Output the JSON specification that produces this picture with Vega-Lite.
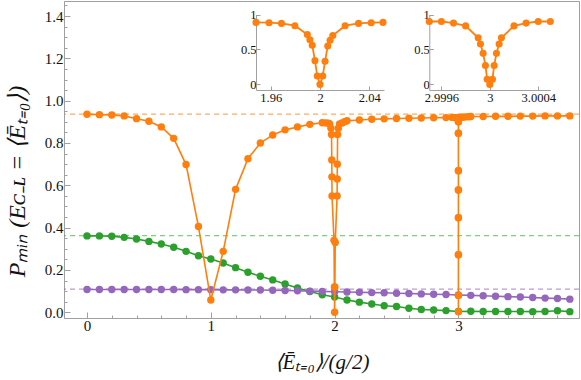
{
  "$schema": "https://vega.github.io/schema/vega-lite/v6.json",
  "width": 515,
  "height": 317,
  "autosize": {"type": "none"},
  "padding": {"left": 64, "top": 1, "right": 2, "bottom": 62},
  "background": "white",
  "config": {
    "view": {"stroke": "#a0a0a0", "strokeWidth": 1},
    "axis": {
      "labelFont": "Liberation Serif",
      "titleFont": "Liberation Serif",
      "labelColor": "#111",
      "titleColor": "#111",
      "domainColor": "#a0a0a0",
      "tickColor": "#a0a0a0",
      "grid": false,
      "labelFontSize": 15,
      "titleFontWeight": "normal"
    }
  },
  "datasets": {
    "orange": [
      {"x": 0.0, "y": 0.936}, {"x": 0.1, "y": 0.934}, {"x": 0.2, "y": 0.932}, {"x": 0.3, "y": 0.928},
      {"x": 0.4, "y": 0.915}, {"x": 0.5, "y": 0.903}, {"x": 0.6, "y": 0.876}, {"x": 0.7, "y": 0.822},
      {"x": 0.8, "y": 0.698}, {"x": 0.9, "y": 0.405}, {"x": 1.0, "y": 0.058}, {"x": 1.1, "y": 0.288},
      {"x": 1.2, "y": 0.581}, {"x": 1.3, "y": 0.726}, {"x": 1.4, "y": 0.8}, {"x": 1.5, "y": 0.838},
      {"x": 1.6, "y": 0.862}, {"x": 1.7, "y": 0.876}, {"x": 1.8, "y": 0.888}, {"x": 1.9, "y": 0.896},
      {"x": 1.93, "y": 0.895}, {"x": 1.95, "y": 0.893}, {"x": 1.96, "y": 0.89}, {"x": 1.97, "y": 0.87},
      {"x": 1.975, "y": 0.84}, {"x": 1.977, "y": 0.72}, {"x": 1.978, "y": 0.64}, {"x": 1.979, "y": 0.55},
      {"x": 1.995, "y": 0.34}, {"x": 1.998, "y": 0.12}, {"x": 2.0, "y": 0.0}, {"x": 2.002, "y": 0.12},
      {"x": 2.005, "y": 0.33}, {"x": 2.02, "y": 0.55}, {"x": 2.021, "y": 0.63}, {"x": 2.022, "y": 0.7},
      {"x": 2.024, "y": 0.84}, {"x": 2.03, "y": 0.87}, {"x": 2.04, "y": 0.89}, {"x": 2.06, "y": 0.895},
      {"x": 2.08, "y": 0.9}, {"x": 2.1, "y": 0.905}, {"x": 2.2, "y": 0.909}, {"x": 2.3, "y": 0.912},
      {"x": 2.4, "y": 0.914}, {"x": 2.5, "y": 0.916}, {"x": 2.6, "y": 0.917}, {"x": 2.7, "y": 0.918},
      {"x": 2.8, "y": 0.919}, {"x": 2.9, "y": 0.92}, {"x": 2.95, "y": 0.921}, {"x": 2.97, "y": 0.92},
      {"x": 2.98, "y": 0.92}, {"x": 2.99, "y": 0.92}, {"x": 2.995, "y": 0.92}, {"x": 2.998, "y": 0.918},
      {"x": 2.9995, "y": 0.9}, {"x": 2.9998, "y": 0.846}, {"x": 2.999904, "y": 0.669}, {"x": 2.999923, "y": 0.578},
      {"x": 2.999945, "y": 0.447}, {"x": 2.999964, "y": 0.272}, {"x": 2.999978, "y": 0.08}, {"x": 3.0, "y": 0.003},
      {"x": 3.000022, "y": 0.08}, {"x": 3.000036, "y": 0.272}, {"x": 3.000055, "y": 0.447}, {"x": 3.000077, "y": 0.578},
      {"x": 3.000096, "y": 0.669}, {"x": 3.0002, "y": 0.846}, {"x": 3.0005, "y": 0.9}, {"x": 3.002, "y": 0.918},
      {"x": 3.005, "y": 0.92}, {"x": 3.01, "y": 0.921}, {"x": 3.02, "y": 0.921}, {"x": 3.03, "y": 0.922},
      {"x": 3.05, "y": 0.923}, {"x": 3.08, "y": 0.924}, {"x": 3.1, "y": 0.925}, {"x": 3.2, "y": 0.925},
      {"x": 3.3, "y": 0.926}, {"x": 3.4, "y": 0.926}, {"x": 3.5, "y": 0.927}, {"x": 3.6, "y": 0.927},
      {"x": 3.7, "y": 0.928}, {"x": 3.8, "y": 0.928}, {"x": 3.9, "y": 0.928}
    ],
    "green": [
      {"x": 0.0, "y": 0.361}, {"x": 0.1, "y": 0.361}, {"x": 0.2, "y": 0.359}, {"x": 0.3, "y": 0.354},
      {"x": 0.4, "y": 0.346}, {"x": 0.5, "y": 0.335}, {"x": 0.6, "y": 0.323}, {"x": 0.7, "y": 0.307},
      {"x": 0.8, "y": 0.288}, {"x": 0.9, "y": 0.267}, {"x": 1.0, "y": 0.252}, {"x": 1.1, "y": 0.233},
      {"x": 1.2, "y": 0.211}, {"x": 1.3, "y": 0.189}, {"x": 1.4, "y": 0.17}, {"x": 1.5, "y": 0.153},
      {"x": 1.6, "y": 0.134}, {"x": 1.7, "y": 0.115}, {"x": 1.8, "y": 0.098}, {"x": 1.9, "y": 0.083},
      {"x": 2.0, "y": 0.072}, {"x": 2.1, "y": 0.058}, {"x": 2.2, "y": 0.048}, {"x": 2.3, "y": 0.039},
      {"x": 2.4, "y": 0.031}, {"x": 2.5, "y": 0.027}, {"x": 2.6, "y": 0.019}, {"x": 2.7, "y": 0.013},
      {"x": 2.8, "y": 0.011}, {"x": 2.9, "y": 0.008}, {"x": 3.0, "y": 0.004}, {"x": 3.1, "y": 0.005},
      {"x": 3.2, "y": 0.004}, {"x": 3.3, "y": 0.004}, {"x": 3.4, "y": 0.004}, {"x": 3.5, "y": 0.004},
      {"x": 3.6, "y": 0.003}, {"x": 3.7, "y": 0.004}, {"x": 3.8, "y": 0.007}, {"x": 3.9, "y": 0.003}
    ],
    "purple": [
      {"x": 0.0, "y": 0.108}, {"x": 0.1, "y": 0.108}, {"x": 0.2, "y": 0.108}, {"x": 0.3, "y": 0.108},
      {"x": 0.4, "y": 0.108}, {"x": 0.5, "y": 0.108}, {"x": 0.6, "y": 0.108}, {"x": 0.7, "y": 0.108},
      {"x": 0.8, "y": 0.107}, {"x": 0.9, "y": 0.107}, {"x": 1.0, "y": 0.107}, {"x": 1.1, "y": 0.106},
      {"x": 1.2, "y": 0.106}, {"x": 1.3, "y": 0.105}, {"x": 1.4, "y": 0.105}, {"x": 1.5, "y": 0.104},
      {"x": 1.6, "y": 0.103}, {"x": 1.7, "y": 0.102}, {"x": 1.8, "y": 0.1}, {"x": 1.9, "y": 0.099},
      {"x": 2.0, "y": 0.097}, {"x": 2.1, "y": 0.096}, {"x": 2.2, "y": 0.095}, {"x": 2.3, "y": 0.093},
      {"x": 2.4, "y": 0.092}, {"x": 2.5, "y": 0.09}, {"x": 2.6, "y": 0.089}, {"x": 2.7, "y": 0.087},
      {"x": 2.8, "y": 0.085}, {"x": 2.9, "y": 0.084}, {"x": 3.0, "y": 0.082}, {"x": 3.1, "y": 0.08},
      {"x": 3.2, "y": 0.078}, {"x": 3.3, "y": 0.076}, {"x": 3.4, "y": 0.074}, {"x": 3.5, "y": 0.072},
      {"x": 3.6, "y": 0.07}, {"x": 3.7, "y": 0.067}, {"x": 3.8, "y": 0.065}, {"x": 3.9, "y": 0.062}
    ],
    "limits": [
      {"s": "orange", "y": 0.936}, {"s": "green", "y": 0.362}, {"s": "purple", "y": 0.109}
    ],
    "inset1": [
      {"x": 1.948, "y": 0.887}, {"x": 1.9586, "y": 0.883}, {"x": 1.9687, "y": 0.873}, {"x": 1.9796, "y": 0.84},
      {"x": 1.9897, "y": 0.714}, {"x": 1.9918, "y": 0.64}, {"x": 1.9937, "y": 0.56}, {"x": 1.9959, "y": 0.34},
      {"x": 1.9978, "y": 0.12}, {"x": 2.0, "y": 0.0}, {"x": 2.0022, "y": 0.12}, {"x": 2.0041, "y": 0.33},
      {"x": 2.0063, "y": 0.55}, {"x": 2.0082, "y": 0.63}, {"x": 2.0104, "y": 0.7}, {"x": 2.0204, "y": 0.84},
      {"x": 2.0313, "y": 0.873}, {"x": 2.0416, "y": 0.883}, {"x": 2.0512, "y": 0.887}
    ],
    "inset2": [
      {"x": 2.9995, "y": 0.9}, {"x": 2.9996, "y": 0.9}, {"x": 2.9997, "y": 0.877}, {"x": 2.9998, "y": 0.837},
      {"x": 2.999904, "y": 0.666}, {"x": 2.999923, "y": 0.577}, {"x": 2.999945, "y": 0.444}, {"x": 2.999964, "y": 0.271},
      {"x": 2.999978, "y": 0.074}, {"x": 3.0, "y": 0.0}, {"x": 3.000022, "y": 0.074}, {"x": 3.000036, "y": 0.271},
      {"x": 3.000055, "y": 0.444}, {"x": 3.000077, "y": 0.577}, {"x": 3.000096, "y": 0.666}, {"x": 3.0002, "y": 0.837},
      {"x": 3.0003, "y": 0.877}, {"x": 3.0004, "y": 0.9}, {"x": 3.0005, "y": 0.9}
    ],
    "frame": [{"id": 1}]
  },
  "layer": [
    {
      "encoding": {
        "x": {"field": "x", "type": "quantitative",
          "scale": {"domain": [-0.186, 3.974], "nice": false, "zero": false},
          "axis": {"orient": "bottom", "values": [0.2, 0.4, 0.6, 0.8, 1.2, 1.4, 1.6, 1.8, 2.2, 2.4, 2.6, 2.8, 3.2, 3.4, 3.6, 3.8],
            "labels": false, "domain": false, "tickSize": -3, "title": null}},
        "y": {"field": "y", "type": "quantitative",
          "scale": {"domain": [-0.027, 1.471], "nice": false, "zero": false},
          "axis": {"orient": "left", "values": [0.05, 0.1, 0.15, 0.25, 0.3, 0.35, 0.45, 0.5, 0.55, 0.65, 0.7, 0.75, 0.85, 0.9, 0.95, 1.05, 1.1, 1.15, 1.25, 1.3, 1.35, 1.45],
            "labels": false, "domain": false, "tickSize": -3, "title": null}}
      },
      "layer": [
        {
          "data": {"name": "limits"},
          "mark": {"type": "rule", "strokeDash": [5, 4], "strokeWidth": 1.3, "opacity": 0.65},
          "encoding": {
            "x": null,
            "color": {"field": "s", "type": "nominal", "legend": null,
              "scale": {"domain": ["orange", "green", "purple"], "range": ["#ff7f0e", "#3cb33c", "#9467bd"]}}
          }
        },
        {"data": {"name": "green"}, "mark": {"type": "line", "color": "#2ca02c", "strokeWidth": 1.6}},
        {"data": {"name": "green"}, "mark": {"type": "point", "filled": true, "opacity": 1, "size": 55, "color": "#2ca02c"}},
        {"data": {"name": "purple"}, "mark": {"type": "line", "color": "#9467bd", "strokeWidth": 1.6}},
        {"data": {"name": "purple"}, "mark": {"type": "point", "filled": true, "opacity": 1, "size": 55, "color": "#9467bd"}}
      ]
    },
    {
      "data": {"name": "orange"},
      "encoding": {
        "x": {"field": "x", "type": "quantitative",
          "scale": {"domain": [-0.186, 3.974], "nice": false, "zero": false},
          "axis": {"orient": "bottom", "values": [0, 1, 2, 3], "format": "d", "tickSize": -6, "labelPadding": 6,
            "title": "⟨Ēₜ₌₀⟩/(g/2)", "titleFontSize": 21, "titleFontStyle": "italic", "titleY": 44, "titleBaseline": "middle"}},
        "y": {"field": "y", "type": "quantitative",
          "scale": {"domain": [-0.027, 1.471], "nice": false, "zero": false},
          "axis": {"orient": "left", "values": [0, 0.2, 0.4, 0.6, 0.8, 1.0, 1.2, 1.4], "format": ".1f", "tickSize": -6, "labelPadding": 7,
            "title": "Pₘᵢₙ (Eᴄ₋ʟ = ⟨Ēₜ₌₀⟩)", "titleFontSize": 24, "titleFontStyle": "italic",
            "titleX": -47, "titleY": 180, "titleBaseline": "middle", "titleAlign": "center", "titleAngle": -90}}
      },
      "layer": [
        {"mark": {"type": "line", "color": "#ff7f0e", "strokeWidth": 1.6}},
        {"mark": {"type": "point", "filled": true, "opacity": 1, "size": 55, "color": "#ff7f0e"}}
      ]
    },
    {
      "encoding": {
        "x": {"field": "x", "type": "quantitative",
          "scale": {"domain": [1.948, 2.052], "range": [192, 320], "nice": false, "zero": false},
          "axis": {"orient": "bottom", "offset": -228, "values": [1.96, 2, 2.04], "format": ".2~f", "tickSize": -4,
            "labelPadding": 5, "labelFontSize": 12.5, "title": null}},
        "y": {"field": "y", "type": "quantitative",
          "scale": {"domain": [-0.08, 1.0], "range": [89, 13.5], "nice": false, "zero": false},
          "axis": {"orient": "left", "offset": -192, "values": [0, 0.5, 1], "format": ".1~f", "tickSize": -4,
            "labelPadding": 4, "labelFontSize": 12.5, "title": null}}
      },
      "layer": [
        {
          "data": {"name": "frame"},
          "mark": {"type": "rect", "fill": "white", "stroke": "#a0a0a0", "strokeWidth": 1},
          "encoding": {"x": {"datum": 1.948}, "x2": {"datum": 2.052}, "y": {"datum": -0.08}, "y2": {"datum": 1.0}}
        },
        {
          "data": {"name": "frame"},
          "mark": {"type": "rule", "color": "#ff7f0e", "strokeDash": [5, 4], "strokeWidth": 1.2, "opacity": 0.65},
          "encoding": {"x": {"datum": 1.948}, "x2": {"datum": 2.052}, "y": {"datum": 0.934}}
        },
        {"data": {"name": "inset1"}, "mark": {"type": "line", "color": "#ff7f0e", "strokeWidth": 1.8}},
        {"data": {"name": "inset1"}, "mark": {"type": "point", "filled": true, "opacity": 1, "size": 50, "color": "#ff7f0e"}}
      ]
    },
    {
      "encoding": {
        "x": {"field": "x", "type": "quantitative",
          "scale": {"domain": [2.9995, 3.0005], "range": [365.3, 486.3], "nice": false, "zero": false},
          "axis": {"orient": "bottom", "offset": -228, "values": [2.9996, 3, 3.0004], "format": ".4~f", "tickSize": -4,
            "labelPadding": 5, "labelFontSize": 12.5, "title": null}},
        "y": {"field": "y", "type": "quantitative",
          "scale": {"domain": [-0.08, 1.0], "range": [89, 13.5], "nice": false, "zero": false},
          "axis": {"orient": "left", "offset": -365.3, "values": [0, 0.5, 1], "format": ".1~f", "tickSize": -4,
            "labelPadding": 4, "labelFontSize": 12.5, "title": null}}
      },
      "layer": [
        {
          "data": {"name": "frame"},
          "mark": {"type": "rect", "fill": "white", "stroke": "#a0a0a0", "strokeWidth": 1},
          "encoding": {"x": {"datum": 2.9995}, "x2": {"datum": 3.0005}, "y": {"datum": -0.08}, "y2": {"datum": 1.0}}
        },
        {
          "data": {"name": "frame"},
          "mark": {"type": "rule", "color": "#ff7f0e", "strokeDash": [5, 4], "strokeWidth": 1.2, "opacity": 0.65},
          "encoding": {"x": {"datum": 2.9995}, "x2": {"datum": 3.0005}, "y": {"datum": 0.925}}
        },
        {"data": {"name": "inset2"}, "mark": {"type": "line", "color": "#ff7f0e", "strokeWidth": 1.8}},
        {"data": {"name": "inset2"}, "mark": {"type": "point", "filled": true, "opacity": 1, "size": 50, "color": "#ff7f0e"}}
      ]
    }
  ],
  "resolve": {
    "scale": {"x": "independent", "y": "independent", "color": "independent"},
    "axis": {"x": "independent", "y": "independent"}
  }
}
